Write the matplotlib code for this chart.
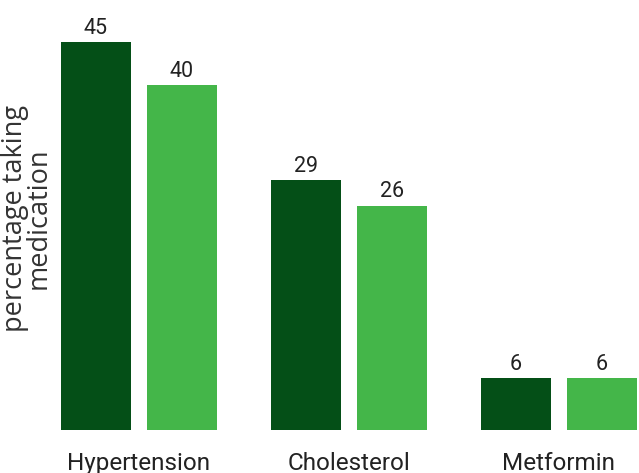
import matplotlib
matplotlib.use("Agg")
import matplotlib.pyplot as plt
import numpy as np

plt.rcParams['font.family'] = ['Roboto', 'DejaVu Sans']

categories = ["Hypertension", "Cholesterol", "Metformin"]
series_a = [45, 29, 6]
series_b = [40, 26, 6]
color_a = "#044F17"
color_b = "#44B649"

W, H = 639, 473
fig = plt.figure(figsize=(W / 100, H / 100), dpi=100)
base_px = 43
ax = fig.add_axes([0, base_px / H, 1, 1 - base_px / H])

x = np.arange(len(categories))
width = 70 / 210
offset = 43 / 210

bars_a = ax.bar(x - offset, series_a, width, color=color_a)
bars_b = ax.bar(x + offset, series_b, width, color=color_b)

for bars in (bars_a, bars_b):
    ax.bar_label(bars, labels=[f"{v:g}" for v in bars.datavalues],
                 padding=2.5, fontsize=15.5, color="#222222")

ax.set_xlim(-139 / 210, (W - 139) / 210)
ax.set_ylim(0, (H - base_px) / 8.62)

ax.set_xticks(x)
ax.set_xticklabels(categories, fontsize=17.5, color="#222222")
ax.tick_params(axis="x", length=0, pad=16)
ax.set_yticks([])
for s in ax.spines.values():
    s.set_visible(False)

fig.text(27 / W, 1 - 218 / H, "percentage taking\nmedication", rotation=90,
         ha="center", va="center", fontsize=19.5, color="#333333",
         family=["Open Sans", "DejaVu Sans"], linespacing=0.8)

fig.savefig("out.png", dpi=100)
